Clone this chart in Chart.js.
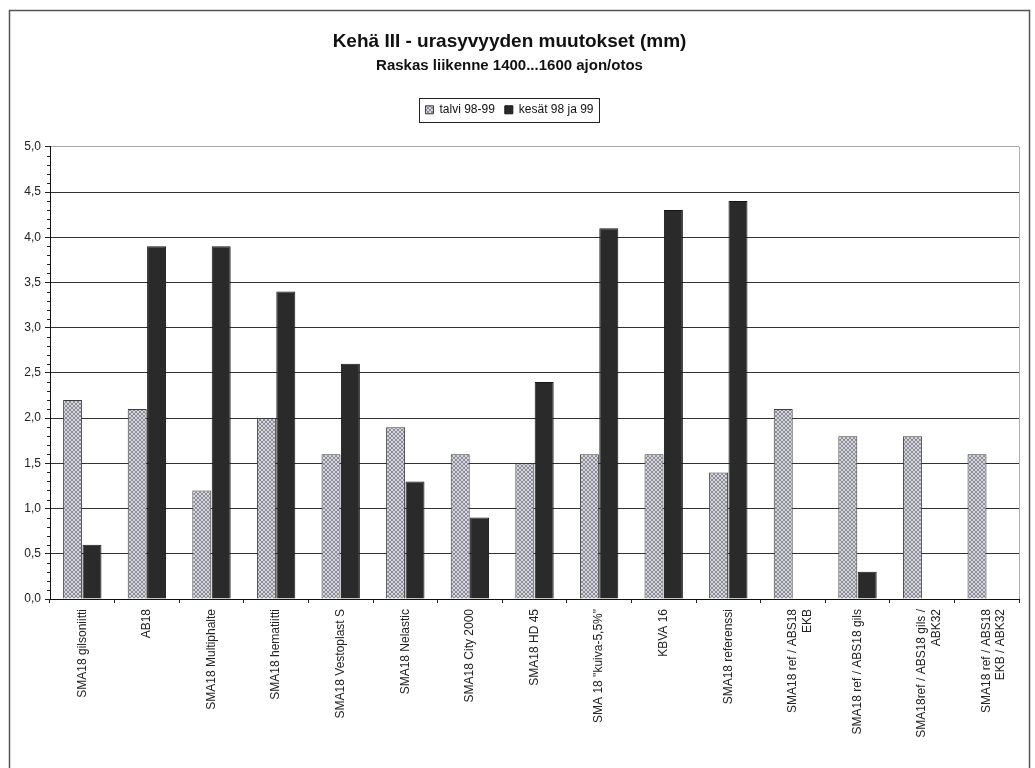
<!DOCTYPE html>
<html lang="fi">
<head>
<meta charset="utf-8">
<title>Kehä III - urasyvyyden muutokset</title>
<script src="https://cdn.jsdelivr.net/npm/chart.js@4.4.1/dist/chart.umd.min.js"></script>
<style>
  html, body { margin: 0; padding: 0; background: #fff; }
  #kaavio { display: block; }
</style>
</head>
<body>
<canvas id="kaavio" width="1035" height="768"></canvas>
<script>
// Kategoriat (päällysteet)
const kategoriat = [
  "SMA18 gilsoniitti",
  "AB18",
  "SMA18 Multiphalte",
  "SMA18 hematiitti",
  "SMA18 Vestoplast S",
  "SMA18 Nelastic",
  "SMA18 City 2000",
  "SMA18 HD 45",
  "SMA 18 \"kuiva-5,5%\"",
  "KBVA 16",
  "SMA18 referenssi",
  ["SMA18 ref / ABS18", "EKB"],
  "SMA18 ref / ABS18 gils",
  ["SMA18ref / ABS18 gils /", "ABK32"],
  ["SMA18 ref / ABS18", "EKB / ABK32"]
];

// Sarjat (mm)
const talvi = [2.2, 2.1, 1.2, 2.0, 1.6, 1.9, 1.6, 1.5, 1.6, 1.6, 1.4, 2.1, 1.8, 1.8, 1.6];
const kesat = [0.6, 3.9, 3.9, 3.4, 2.6, 1.3, 0.9, 2.4, 4.1, 4.3, 4.4, null, 0.3, null, null];

// Y-akseli
const yMin = 0;
const yMax = 5;
const yAskel = 0.5;

const fontti = "'Liberation Sans', Arial, sans-serif";

// Helper: harmaa ristiviivoitus talvi-pylväille
function teeKuvio() {
  const c = document.createElement("canvas");
  c.width = 4;
  c.height = 4;
  const g = c.getContext("2d");
  g.fillStyle = "#d6d6de";
  g.fillRect(0, 0, 4, 4);
  g.fillStyle = "#8c8c96";
  for (let i = 0; i < 4; i++) {
    g.fillRect(i, i, 1, 1);
    g.fillRect(3 - i, i, 1, 1);
  }
  return g.createPattern(c, "repeat");
}

// Kehys koko kuvan ympärille, pienet väliviivat y-akselille ja laatikko selitteelle
const kehysPlugin = {
  id: "kehys",
  beforeDraw(chart) {
    const ctx = chart.ctx;
    ctx.save();
    ctx.fillStyle = "#fff";
    ctx.fillRect(0, 0, chart.width, chart.height);
    ctx.restore();
  },
  afterDraw(chart) {
    const ctx = chart.ctx;
    const area = chart.chartArea;
    const y = chart.scales.y;
    ctx.save();

    // ulkokehys
    ctx.strokeStyle = "#555";
    ctx.lineWidth = 1.5;
    ctx.strokeRect(9.5, 10.5, 1020, 800);

    // piirtoalueen oikea reuna
    ctx.strokeStyle = "#b0b0b0";
    ctx.lineWidth = 1;
    ctx.beginPath();
    ctx.moveTo(Math.round(area.right) + 0.5, area.top);
    ctx.lineTo(Math.round(area.right) + 0.5, area.bottom);
    ctx.stroke();

    // pienet väliviivat 0,1 välein
    ctx.strokeStyle = "#222";
    ctx.beginPath();
    for (let i = 1; i < 50; i++) {
      if (i % 5 === 0) continue;
      const py = Math.round(y.getPixelForValue(i / 10)) + 0.5;
      ctx.moveTo(area.left - 3, py);
      ctx.lineTo(area.left, py);
    }
    ctx.stroke();

    // selitteen laatikko
    const boxit = chart.legend.legendHitBoxes;
    if (boxit && boxit.length) {
      const eka = boxit[0];
      const vika = boxit[boxit.length - 1];
      const x1 = Math.round(eka.left - 6) + 0.5;
      const x2 = Math.round(vika.left + vika.width + 5) + 0.5;
      const y1 = Math.round(eka.top - 6) + 0.5;
      const y2 = Math.round(eka.top + eka.height + 6) + 0.5;
      ctx.strokeStyle = "#222";
      ctx.lineWidth = 1;
      ctx.strokeRect(x1, y1, x2 - x1, y2 - y1);
    }
    ctx.restore();
  }
};

function renderKaavio() {
  const ctx = document.getElementById("kaavio");
  const kuvio = teeKuvio();

  new Chart(ctx, {
    type: "bar",
    data: {
      labels: kategoriat,
      datasets: [
        {
          label: "talvi 98-99",
          data: talvi,
          backgroundColor: kuvio,
          borderColor: "#3a3a3a",
          borderWidth: 1
        },
        {
          label: "kesät 98 ja 99",
          data: kesat,
          backgroundColor: "#2a2a2a",
          borderColor: "#151515",
          borderWidth: 1
        }
      ]
    },
    options: {
      responsive: false,
      animation: false,
      devicePixelRatio: 1,
      categoryPercentage: 0.6,
      barPercentage: 0.98,
      layout: { padding: { top: 0, left: 0, right: 16, bottom: 0 } },
      plugins: {
        tooltip: { enabled: false },
        title: {
          display: true,
          text: "Kehä III - urasyvyyden muutokset (mm)",
          color: "#111",
          font: { family: fontti, size: 19, weight: "bold", lineHeight: 1.2 },
          padding: { top: 30, bottom: 4 }
        },
        subtitle: {
          display: true,
          text: "Raskas liikenne 1400...1600 ajon/otos",
          color: "#111",
          font: { family: fontti, size: 15, weight: "bold", lineHeight: 1.2 },
          padding: { top: 0, bottom: 19 }
        },
        legend: {
          display: true,
          position: "top",
          labels: {
            color: "#111",
            font: { family: fontti, size: 12 },
            boxWidth: 8,
            boxHeight: 8,
            padding: 10
          }
        }
      },
      scales: {
        x: {
          grid: {
            display: true,
            offset: true,
            drawOnChartArea: false,
            tickLength: 4,
            color: "#222"
          },
          border: { display: true, color: "#111", width: 1 },
          ticks: {
            color: "#222",
            font: { family: fontti, size: 12 },
            minRotation: 90,
            maxRotation: 90,
            autoSkip: false,
            padding: 6
          },
          afterFit(s) { s.height = 169; }
        },
        valitila: {
          type: "category",
          position: "top",
          display: true,
          grid: { display: false },
          border: { display: false },
          ticks: { display: false },
          afterFit(s) { s.height = 21; }
        },
        y: {
          min: yMin,
          max: yMax,
          ticks: {
            stepSize: yAskel,
            color: "#222",
            font: { family: fontti, size: 12 },
            padding: 4,
            callback: v => v.toFixed(1).replace(".", ",")
          },
          grid: {
            color: c => (c.tick && c.tick.value === yMax ? "#a8a8a8" : "#333"),
            tickColor: "#222",
            tickLength: 5,
            lineWidth: 1
          },
          border: { display: true, color: "#111", width: 1 },
          afterFit(s) { s.width = 50; }
        }
      }
    },
    plugins: [kehysPlugin]
  });
}

document.addEventListener("DOMContentLoaded", renderKaavio);
</script>
</body>
</html>
